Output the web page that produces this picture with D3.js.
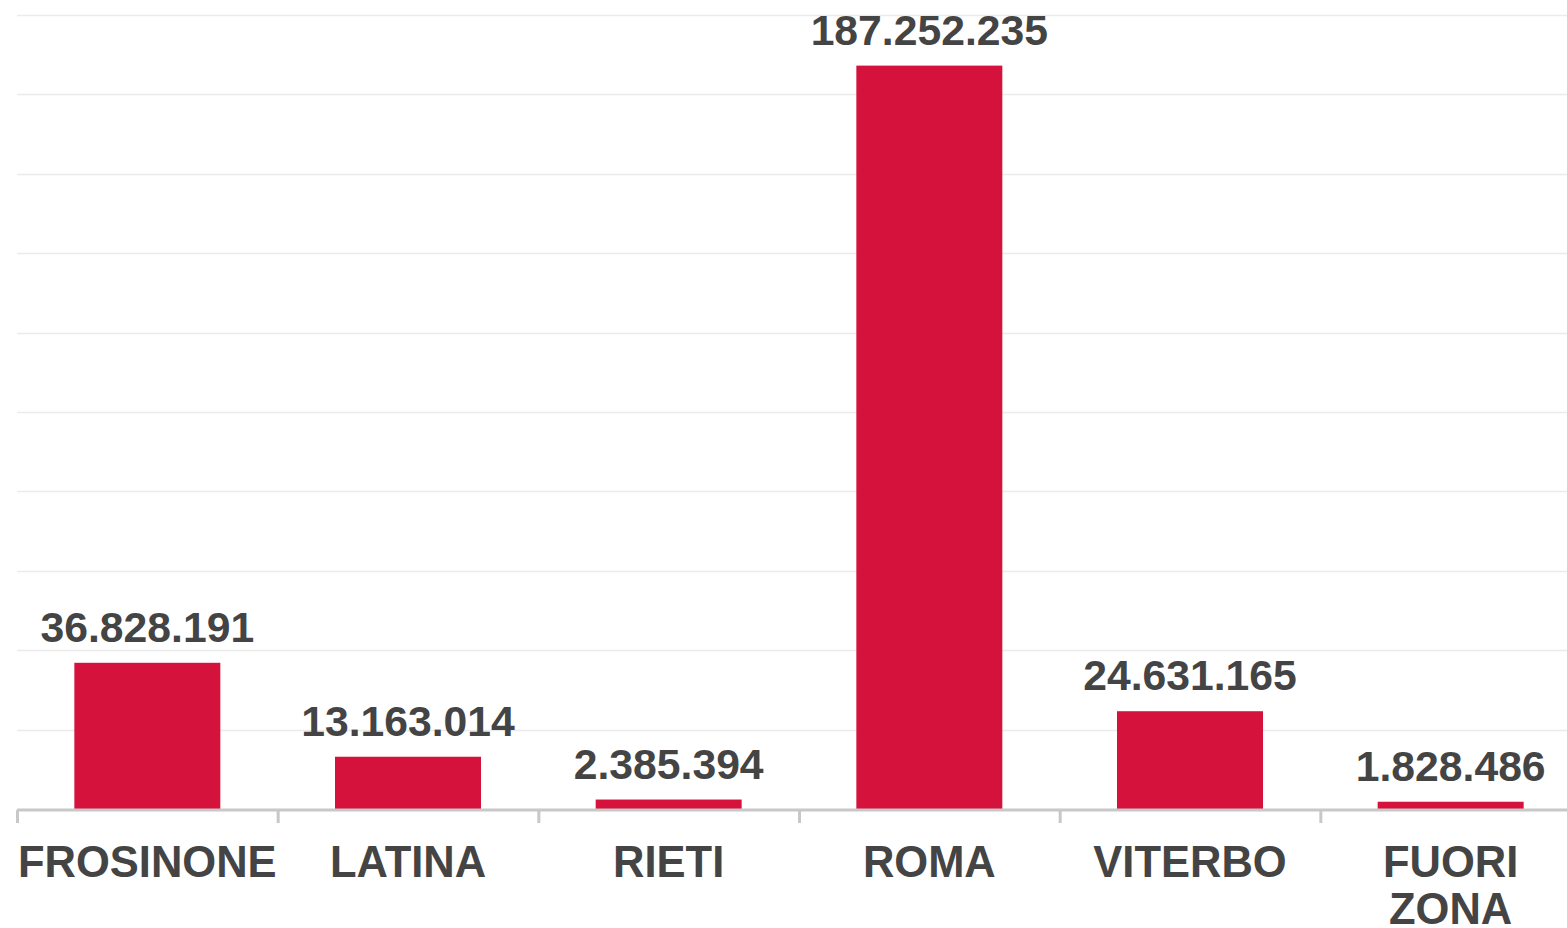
<!DOCTYPE html>
<html>
<head>
<meta charset="utf-8">
<script src="https://cdn.jsdelivr.net/npm/d3@7"></script>
<style>
  html, body { margin: 0; padding: 0; background: #fff; overflow: hidden; }
  svg { display: block; font-family: "Liberation Sans", Arial, sans-serif; }
</style>
</head>
<body>
<svg id="chart"></svg>
<script>
const categories = ['FROSINONE', 'LATINA', 'RIETI', 'ROMA', 'VITERBO', 'FUORI ZONA'];
const values = [36828191, 13163014, 2385394, 187252235, 24631165, 1828486];
const yTicks = [0, 20e6, 40e6, 60e6, 80e6, 100e6, 120e6, 140e6, 160e6, 180e6, 200e6];

const width = 1567;
const height = 928;
// plot runs slightly past the right edge, like the reference
const margin = { top: 15, right: -14, bottom: 119, left: 17 };

const it = d3.formatLocale({ decimal: ',', thousands: '.', grouping: [3], currency: ['€', ''] });
const fmt = it.format(',d');

const data = categories.map((name, i) => ({ name, value: values[i] }));

const x = d3.scaleBand()
    .domain(categories)
    .range([margin.left, width - margin.right])
    .paddingInner(0.44)
    .paddingOuter(0.22);

const y = d3.scaleLinear()
    .domain([0, 200e6])
    .range([height - margin.bottom, margin.top]);

const svg = d3.select('#chart')
    .attr('width', width)
    .attr('height', height)
    .attr('viewBox', [0, 0, width, height]);

// gridlines
svg.append('g')
    .selectAll('line')
    .data(yTicks.slice(1))
    .join('line')
        .attr('x1', margin.left)
        .attr('x2', width)
        .attr('y1', d => Math.round(y(d)) + 0.5)
        .attr('y2', d => Math.round(y(d)) + 0.5)
        .attr('stroke', '#ebebeb')
        .attr('stroke-width', 1.5);

// bars
svg.append('g')
    .attr('fill', '#d4123c')
    .selectAll('rect')
    .data(data)
    .join('rect')
        .attr('x', d => x(d.name))
        .attr('y', d => y(d.value))
        .attr('width', x.bandwidth())
        .attr('height', d => y(0) - y(d.value));

// baseline + boundary ticks
const step = x.step();
const x0 = margin.left;
const base = y(0);
svg.append('line')
    .attr('x1', margin.left)
    .attr('x2', width)
    .attr('y1', base + 1)
    .attr('y2', base + 1)
    .attr('stroke', '#c8c8c8')
    .attr('stroke-width', 3);

svg.append('g')
    .selectAll('line')
    .data(categories)
    .join('line')
        .attr('x1', (d, i) => x0 + i * step + 0.5)
        .attr('x2', (d, i) => x0 + i * step + 0.5)
        .attr('y1', base + 1)
        .attr('y2', base + 14)
        .attr('stroke', '#c8c8c8')
        .attr('stroke-width', 3);

// value labels
svg.append('g')
    .selectAll('text')
    .data(data)
    .join('text')
        .attr('x', d => x(d.name) + x.bandwidth() / 2)
        .attr('y', d => y(d.value) - 21)
        .attr('text-anchor', 'middle')
        .attr('fill', '#444')
        .attr('font-weight', 'bold')
        .attr('font-size', 42.7)
        .text(d => fmt(d.value));

// category labels (wrap on spaces for multi-word names)
const labels = svg.append('g')
    .selectAll('text')
    .data(categories)
    .join('text')
        .attr('x', d => x(d) + x.bandwidth() / 2)
        .attr('y', 877)
        .attr('text-anchor', 'middle')
        .attr('fill', '#444')
        .attr('font-weight', 'bold')
        .attr('font-size', 43.5);

labels.each(function(d) {
    const t = d3.select(this);
    const words = d.split(' ');
    words.forEach((w, i) => {
        t.append('tspan')
            .attr('x', t.attr('x'))
            .attr('dy', i === 0 ? 0 : 47)
            .text(w);
    });
});
</script>
</body>
</html>
